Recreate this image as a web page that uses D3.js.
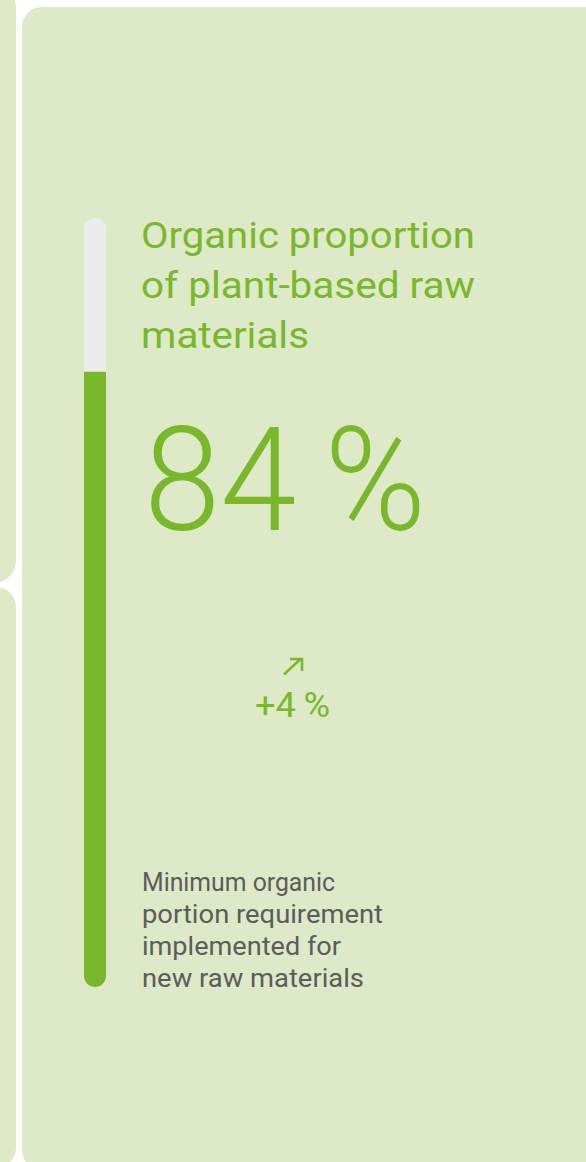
<!DOCTYPE html>
<html>
<head>
<meta charset="utf-8">
<script src="https://cdn.jsdelivr.net/npm/d3@7"></script>
<style>
  html, body { margin: 0; padding: 0; background: #ffffff; }
  svg { display: block; }
  text { font-family: Roboto, "Noto Sans", sans-serif; }
</style>
</head>
<body>
<script>
// ---- data ----
const titleLines = ["Organic proportion", "of plant-based raw", "materials"];
const headlineValue = [84];
const scaleMax = [105];
const changeValue = [4];
const noteLines = ["Minimum organic", "portion requirement", "implemented for", "new raw materials"];

// ---- layout ----
const W = 586, H = 1162;
const panelColor = "#dde9c7";
const green = "#78b82a";
const track = "#ececec";
const gray = "#5c5c5c";

const svg = d3.select("body").append("svg").attr("width", W).attr("height", H);

// neighbouring panels (cut off at left)
svg.append("rect").attr("x", -40).attr("y", -14).attr("width", 56).attr("height", 597).attr("rx", 22).attr("fill", panelColor);
svg.append("rect").attr("x", -40).attr("y", 587).attr("width", 56).attr("height", 581).attr("rx", 20).attr("fill", panelColor);
// main panel
svg.append("rect").attr("x", 22).attr("y", 7).attr("width", 600).attr("height", 1163).attr("rx", 20).attr("fill", panelColor);

// ---- progress bar ----
const y = d3.scaleLinear().domain([0, scaleMax[0]]).range([987, 218]);
const barX = 84, barW = 22;
const defs = svg.append("defs");
defs.append("clipPath").attr("id", "barClip")
  .append("rect").attr("x", barX).attr("y", y(scaleMax[0])).attr("width", barW)
  .attr("height", y(0) - y(scaleMax[0])).attr("rx", barW / 2);

svg.append("rect").attr("x", barX).attr("y", y(scaleMax[0])).attr("width", barW)
  .attr("height", y(0) - y(scaleMax[0])).attr("rx", barW / 2).attr("fill", track);

svg.append("g").attr("clip-path", "url(#barClip)")
  .selectAll("rect").data(headlineValue).join("rect")
  .attr("x", barX).attr("y", d => y(d)).attr("width", barW)
  .attr("height", d => y(0) - y(d)).attr("fill", green);

// ---- title ----
const titleWidths = [334, 334, 168];
svg.append("g").selectAll("text").data(titleLines).join("text")
  .attr("x", 141).attr("y", (d, i) => 248 + i * 50)
  .attr("font-size", 37).attr("fill", green)
  .attr("textLength", (d, i) => titleWidths[i]).attr("lengthAdjust", "spacingAndGlyphs")
  .text(d => d);

// ---- headline number ----
svg.append("g").selectAll("text").data(headlineValue).join("text")
  .attr("x", 144).attr("y", 530)
  .attr("font-size", 145).attr("font-weight", 300).attr("fill", green)
  .attr("textLength", 282).attr("lengthAdjust", "spacingAndGlyphs")
  .text(d => d + "\u2009%");

// ---- change indicator ----
const arrow = svg.append("g").attr("stroke", green).attr("stroke-width", 2.6).attr("fill", "none")
  .attr("stroke-linecap", "butt");
arrow.append("line").attr("x1", 284).attr("y1", 674.5).attr("x2", 301).attr("y2", 658.5);
arrow.append("polyline").attr("points", "290,659 302,659 302,671");

svg.append("g").selectAll("text").data(changeValue).join("text")
  .attr("x", 255).attr("y", 717)
  .attr("font-size", 35).attr("fill", green)
  .attr("textLength", 75).attr("lengthAdjust", "spacingAndGlyphs")
  .text(d => "+" + d + "\u2009%");

// ---- note ----
const noteWidths = [193, 241, 199, 222];
svg.append("g").selectAll("text").data(noteLines).join("text")
  .attr("x", 142).attr("y", (d, i) => 891 + i * 32)
  .attr("font-size", 25).attr("fill", gray)
  .attr("textLength", (d, i) => noteWidths[i]).attr("lengthAdjust", "spacingAndGlyphs")
  .text(d => d);
</script>
</body>
</html>
